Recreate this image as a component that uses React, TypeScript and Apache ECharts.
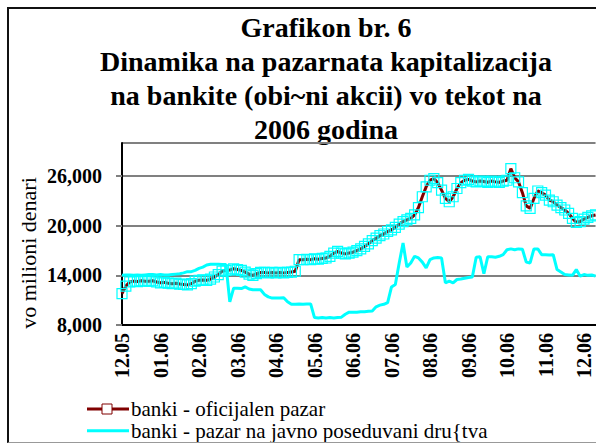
import React, { useEffect, useRef } from 'react';
import * as echarts from 'echarts';

// ---- data ----
const monthLabels = ['12.05', '01.06', '02.06', '03.06', '04.06', '05.06', '06.06', '07.06', '08.06', '09.06', '10.06', '11.06', '12.06'];
const POINTS_PER_MONTH = 10;

// banki - oficijalen pazar (million denars), ~10 readings per month
const officialMarket = [
  11800, 12700, 13200, 13300, 13250, 13350, 13300, 13300, 13350, 13200,
  13100, 13150, 13050, 13000, 13050, 12950, 12900, 12850, 13000, 13300,
  13400, 13450, 13400, 13550, 13800, 14100, 14500, 14600, 14650, 14800,
  14700, 14600, 14400, 14150, 14000, 14200, 14350, 14350, 14300, 14350,
  14300, 14350, 14300, 14350, 14400, 14500, 15900, 15900, 15950, 15900,
  16000, 15950, 16050, 16100, 16300, 16700, 16900, 16700, 16600, 16700,
  16800, 17000, 17200, 17500, 17800, 18200, 18500, 18800, 19000, 19300,
  19500, 19800, 20200, 20500, 20700, 20900, 21300, 22200, 23500, 24700,
  25500, 25700, 25200, 24300, 23300, 22900, 23500, 24500, 25200, 25500,
  25600, 25400, 25300, 25400, 25350, 25250, 25400, 25300, 25250, 25400,
  25500, 26900, 25800, 25300, 24000, 22400, 22100, 23300, 24200, 24000,
  23700, 23100, 22900, 22500, 22200, 21900, 21500, 20900, 20400, 20500,
  20800, 21000, 21200, 21300,
];

// banki - pazar na javno poseduvani drustva (million denars)
const publicMarket = [
  14000, 14050, 14050, 14000, 14050, 14000, 14050, 14100, 14100, 14050,
  14100, 14050, 14050, 14100, 14150, 14200, 14300, 14450, 14450, 14600,
  14850, 15000, 15250, 15350, 15350, 15350, 15300, 15300, 10800, 12450,
  12450, 12400, 12600, 12350, 12250, 12250, 12250, 11700, 11400, 11250,
  11250, 11250, 11300, 10800, 10500, 10500, 10550, 10500, 10550, 10550,
  8900, 8850, 8900, 8850, 8900, 8850, 8900, 8950, 9300, 9550,
  9550, 9550, 9600, 9600, 9650, 9700, 10200, 10400, 10500, 10700,
  12600, 12900, 15500, 17900, 15000, 15500, 16300, 16100, 15600, 14900,
  15900, 16100, 16150, 16100, 13100, 13300, 13100, 13500, 13550, 13650,
  13750, 13800, 16200, 16250, 14200, 16250, 16250, 16200, 16300, 16500,
  17100, 17200, 17100, 17200, 17150, 15600, 15500, 17200, 17200, 16500,
  16500, 16450, 16500, 14700, 14400, 14100, 14050, 14000, 14700, 13900,
  14100, 14000, 14050, 13900,
];

const yMin = 8000;
const yMax = 30000;
const yStep = 6000;

const titleLines = [
  'Grafikon br. 6',
  'Dinamika na pazarnata kapitalizacija',
  'na bankite (obi~ni akcii) vo tekot na',
  '2006 godina',
];
const yAxisTitle = 'vo milioni denari';
const seriesNames = ['banki - oficijalen pazar', 'banki - pazar na javno poseduvani dru{tva'];

const DARK_RED = '#800000';
const CYAN = '#00ffff';
const SERIF = '"Liberation Serif", "Times New Roman", serif';

export default function App() {
  const ref = useRef<HTMLDivElement>(null);

  useEffect(() => {
    if (!ref.current) return;
    const chart = echarts.init(ref.current, null, { renderer: 'svg' });

    const categories = officialMarket.map((_, i) => `${monthLabels[Math.floor(i / POINTS_PER_MONTH)]}#${i % POINTS_PER_MONTH}`);

    const gridLeft = 113;
    const gridTop = 134;
    const gridWidth = (officialMarket.length - 1) * 3.85;
    const gridHeight = 182;

    const titleBaselines = [27, 61.5, 95.5, 129.5];
    const titleGraphics = titleLines.map((t, i) => ({
      type: 'text',
      silent: true,
      style: {
        text: t,
        x: 317,
        y: titleBaselines[i] - 9,
        fill: '#000',
        fontSize: 28,
        lineHeight: 30,
        fontWeight: 'bold',
        fontFamily: SERIF,
        align: 'center',
        verticalAlign: 'middle',
        textAlign: 'center',
        textVerticalAlign: 'middle',
      },
    }));

    const legendY = [400, 421.7];
    const legendGraphics: any[] = [
      { type: 'line', silent: true, shape: { x1: 78, y1: legendY[0], x2: 120, y2: legendY[0] }, style: { stroke: DARK_RED, lineWidth: 3 } },
      { type: 'rect', silent: true, shape: { x: 93, y: legendY[0] - 5, width: 10, height: 10 }, style: { fill: '#fff', stroke: DARK_RED, lineWidth: 1 } },
      { type: 'line', silent: true, shape: { x1: 78, y1: legendY[1], x2: 120, y2: legendY[1] }, style: { stroke: CYAN, lineWidth: 3 } },
      ...seriesNames.map((n, i) => ({
        type: 'text',
        silent: true,
        style: {
          text: n,
          x: 122,
          y: legendY[i],
          fill: '#000',
          fontSize: 21,
          lineHeight: 20,
          fontFamily: SERIF,
          align: 'left',
          verticalAlign: 'middle',
          textAlign: 'left',
          textVerticalAlign: 'middle',
        },
      })),
    ];

    const yTitleGraphic = {
      type: 'text',
      silent: true,
      x: 19,
      y: 244,
      rotation: Math.PI / 2,
      style: {
        text: yAxisTitle,
        x: 0,
        y: 0,
        fill: '#000',
        fontSize: 22,
        fontFamily: SERIF,
        align: 'center',
        verticalAlign: 'middle',
        textAlign: 'center',
        textVerticalAlign: 'middle',
      },
    };

    const option: any = {
      animation: false,
      backgroundColor: '#fff',
      grid: { left: gridLeft, top: gridTop, width: gridWidth, height: gridHeight, containLabel: false },
      xAxis: {
        type: 'category',
        data: categories,
        boundaryGap: false,
        axisLine: { show: true, lineStyle: { color: '#000', width: 2 } },
        axisTick: { show: false },
        splitLine: { show: false },
        axisLabel: {
          rotate: 90,
          margin: 8,
          interval: (index: number) => index % POINTS_PER_MONTH === 0,
          formatter: (value: string) => value.split('#')[0],
          color: '#000',
          fontSize: 20,
          fontWeight: 'bold',
          fontFamily: SERIF,
        },
      },
      yAxis: {
        type: 'value',
        min: yMin,
        max: yMax,
        interval: yStep,
        axisLine: { show: true, lineStyle: { color: '#000', width: 2 } },
        axisTick: { show: true, length: 6, lineStyle: { color: '#808080', width: 2 } },
        splitLine: { show: true, lineStyle: { color: '#808080', width: 2 } },
        axisLabel: {
          showMaxLabel: false,
          margin: 20,
          color: '#000',
          fontSize: 20,
          fontWeight: 'bold',
          fontFamily: SERIF,
          formatter: (v: number) => v.toLocaleString('en-US'),
        },
      },
      series: [
        {
          name: seriesNames[0],
          type: 'line',
          data: officialMarket,
          symbol: 'rect',
          symbolSize: 10,
          showSymbol: true,
          showAllSymbol: true,
          silent: true,
          lineStyle: { color: DARK_RED, width: 3 },
          itemStyle: { color: 'rgba(0,0,0,0)', borderColor: CYAN, borderWidth: 1.2 },
          emphasis: { disabled: true },
          z: 2,
        },
        {
          name: seriesNames[1],
          type: 'line',
          data: publicMarket,
          symbol: 'none',
          silent: true,
          lineStyle: { color: CYAN, width: 3 },
          itemStyle: { color: CYAN },
          emphasis: { disabled: true },
          z: 3,
        },
      ],
      graphic: [...titleGraphics, yTitleGraphic, ...legendGraphics],
    };

    chart.setOption(option);
    return () => chart.dispose();
  }, []);

  return (
    <div
      style={{
        position: 'fixed',
        left: 7,
        top: 7,
        width: 600,
        height: 436,
        boxSizing: 'border-box',
        borderLeft: '2px solid #111',
        borderTop: '2px solid #111',
        borderBottom: '1px solid #999',
        background: '#fff',
        overflow: 'hidden',
      }}
    >
      <div ref={ref} style={{ width: 590, height: 433 }} />
    </div>
  );
}
